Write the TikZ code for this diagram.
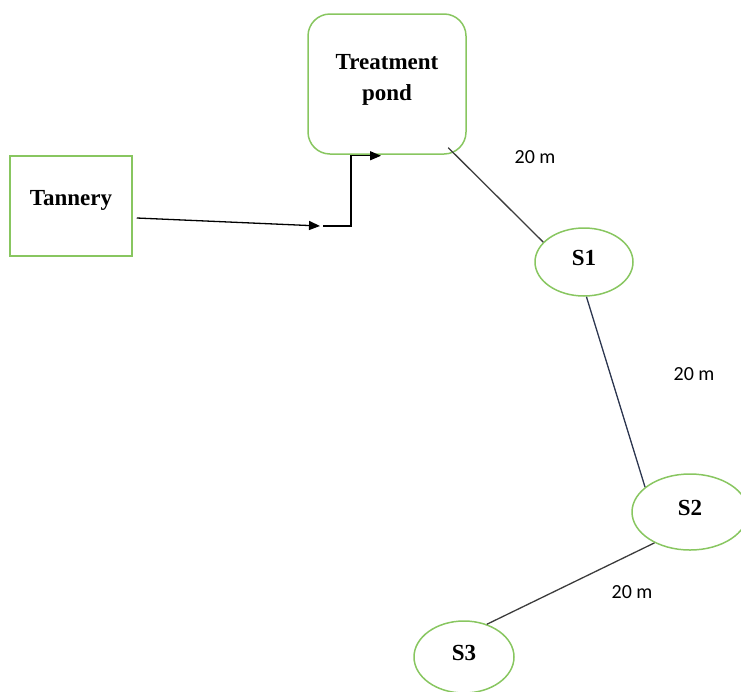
\documentclass[tikz,border=0pt]{standalone}
\usepackage{fontspec}
\setmainfont{Liberation Serif}
\newfontfamily\lblfont{Carlito}
\usetikzlibrary{arrows.meta,shapes.geometric,calc}
\definecolor{boxgreen}{RGB}{136,198,96}
\definecolor{linegray}{RGB}{60,60,60}
\definecolor{lineslate}{RGB}{45,55,80}
\tikzset{
  greenbox/.style={draw=boxgreen,line width=1.5pt,fill=none,inner sep=0pt},
  siteoval/.style={ellipse,draw=boxgreen,line width=1.5pt,inner sep=0pt,
    font=\fontsize{23}{26}\selectfont\bfseries,text depth=8pt},
  boldtext/.style={font=\fontsize{23}{31}\selectfont\bfseries,align=center,inner sep=0pt},
  distlbl/.style={font=\lblfont\fontsize{20}{24}\selectfont,inner sep=0pt},
  link/.style={draw=linegray,line width=1.3pt},
  flow/.style={draw=black,line width=1.3pt,-{Triangle[length=11pt,width=9pt]}}
}
\begin{document}
\begin{tikzpicture}[x=1pt,y=-1pt]
\useasboundingbox (0,0) rectangle (741,691);
% boxes
\node[greenbox,minimum width=122pt,minimum height=100pt] (tannery) at (71,206) {};
\node[boldtext] (tannerytxt) at (71,200) {Tannery};
\node[greenbox,rounded corners=22pt,minimum width=158pt,minimum height=140pt] (pond) at (387,84) {};
\node[boldtext] (pondtxt) at (387,80) {Treatment\\pond};
% sites
\node[siteoval,minimum width=98pt,minimum height=68pt] (s1) at (584,262) {S1};
\node[siteoval,minimum width=116pt,minimum height=76pt] (s2) at (690,512) {S2};
\node[siteoval,minimum width=100pt,minimum height=72pt] (s3) at (464,657) {S3};
% flow arrows
\coordinate (j1) at (320,226);
\coordinate (j2) at (323,226);
\coordinate (pin) at ([xshift=-6pt,yshift=-1pt]pond.south);
\draw[flow] ([xshift=4pt,yshift=-12pt]tannery.east) -- (j1);
\draw[flow] (j2) -- ++(28,0) |- (pin);
% links
\draw[link,shorten <=-10pt] (pond.-46) -- (s1.154);
\draw[link,draw=lineslate] (s1.-86) -- (s2.151);
\draw[link] (s2.221) -- (s3.55);
% distance labels
\node[distlbl] (d1) at (535,157) {20 m};
\node[distlbl] (d2) at (694,374) {20 m};
\node[distlbl] (d3) at (632,592) {20 m};
\end{tikzpicture}
\end{document}
